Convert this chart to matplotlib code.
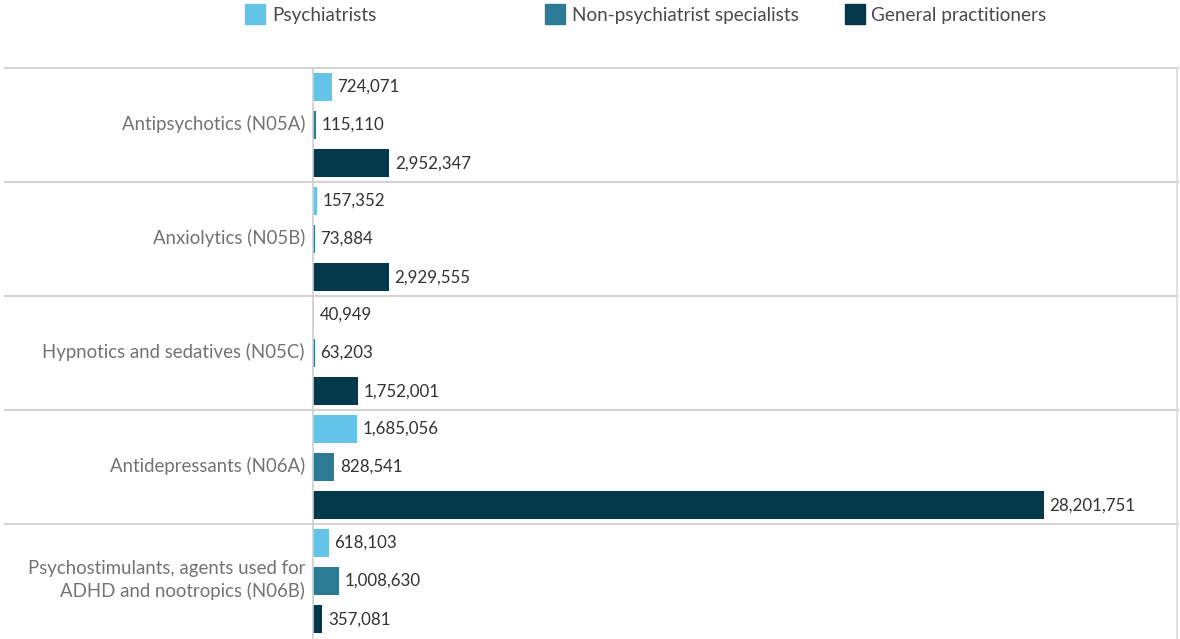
import matplotlib
matplotlib.use("Agg")
import matplotlib.pyplot as plt
from matplotlib.patches import Rectangle
from matplotlib.transforms import blended_transform_factory, ScaledTranslation

categories = [
    "Antipsychotics (N05A)",
    "Anxiolytics (N05B)",
    "Hypnotics and sedatives (N05C)",
    "Antidepressants (N06A)",
    "Psychostimulants, agents used for\nADHD and nootropics (N06B)",
]
series_names = ["Psychiatrists", "Non-psychiatrist specialists", "General practitioners"]
psychiatrists = [724071, 157352, 40949, 1685056, 618103]
non_psych_specialists = [115110, 73884, 63203, 828541, 1008630]
general_practitioners = [2952347, 2929555, 1752001, 28201751, 357081]
series_values = [psychiatrists, non_psych_specialists, general_practitioners]
colors = ["#64C4E8", "#2A7B93", "#033A4B"]

plt.rcParams["font.family"] = ["Lato", "DejaVu Sans"]

W, H = 1180, 639
fig = plt.figure(figsize=(W / 100, H / 100), dpi=100)
ax_left, ax_right, ax_top, ax_bottom = 313, 1177, 68, 638
ax = fig.add_axes([ax_left / W, 1 - ax_bottom / H,
                   (ax_right - ax_left) / W, (ax_bottom - ax_top) / H])

n = len(categories)
offsets = [-0.335, 0.0, 0.335]
bar_h = 0.245
for s, (vals, col) in enumerate(zip(series_values, colors)):
    ys = [i + offsets[s] for i in range(n)]
    ax.barh(ys, vals, height=bar_h, color=col, edgecolor="none")
    for y, v in zip(ys, vals):
        ax.annotate(f"{v:,}", xy=(v, y), xytext=(4, 0), textcoords="offset points",
                    va="center", ha="left", fontsize=12.2, color="#333333")

ax.set_xlim(0, 33.35e6)
ax.set_ylim(n - 0.5, -0.5)
ax.set_xticks([])
ax.set_yticks([])
for sp in ["top", "bottom", "right"]:
    ax.spines[sp].set_visible(False)
ax.spines["left"].set_color("#cfcfcf")
ax.spines["left"].set_linewidth(1.2)

# Panel separators extending across the label column
trans = blended_transform_factory(fig.transFigure, ax.transData)
for b in [i - 0.5 for i in range(n)]:
    ax.plot([5 / W, 1178 / W], [b, b], transform=trans, color="#d4d4d4",
            lw=1.5, clip_on=False, zorder=0)
fig.add_artist(plt.Line2D([1177 / W, 1177 / W], [0, 1 - ax_top / H],
                          color="#dcdcdc", lw=1.2))

# Category labels, right-aligned just left of the axis line
label_trans = blended_transform_factory(ax.transAxes, ax.transData) + \
    ScaledTranslation(-8 / 100, 0.01, fig.dpi_scale_trans)
for i, c in enumerate(categories):
    ax.text(0, i, c, transform=label_trans, ha="right", va="center",
            fontsize=13.4, color="#737373", linespacing=1.35)

# Legend
legend_sq = [245, 545, 845]
legend_tx = [272, 572, 871]
for name, col, xs, xt in zip(series_names, colors, legend_sq, legend_tx):
    fig.add_artist(Rectangle((xs / W, 1 - 24 / H), 20 / W, 20 / H,
                             transform=fig.transFigure, color=col))
    fig.text(xt / W, 1 - 16 / H, name, ha="left", va="center",
             fontsize=13.6, color="#4a4a4a")

fig.savefig("out.png", dpi=100)
